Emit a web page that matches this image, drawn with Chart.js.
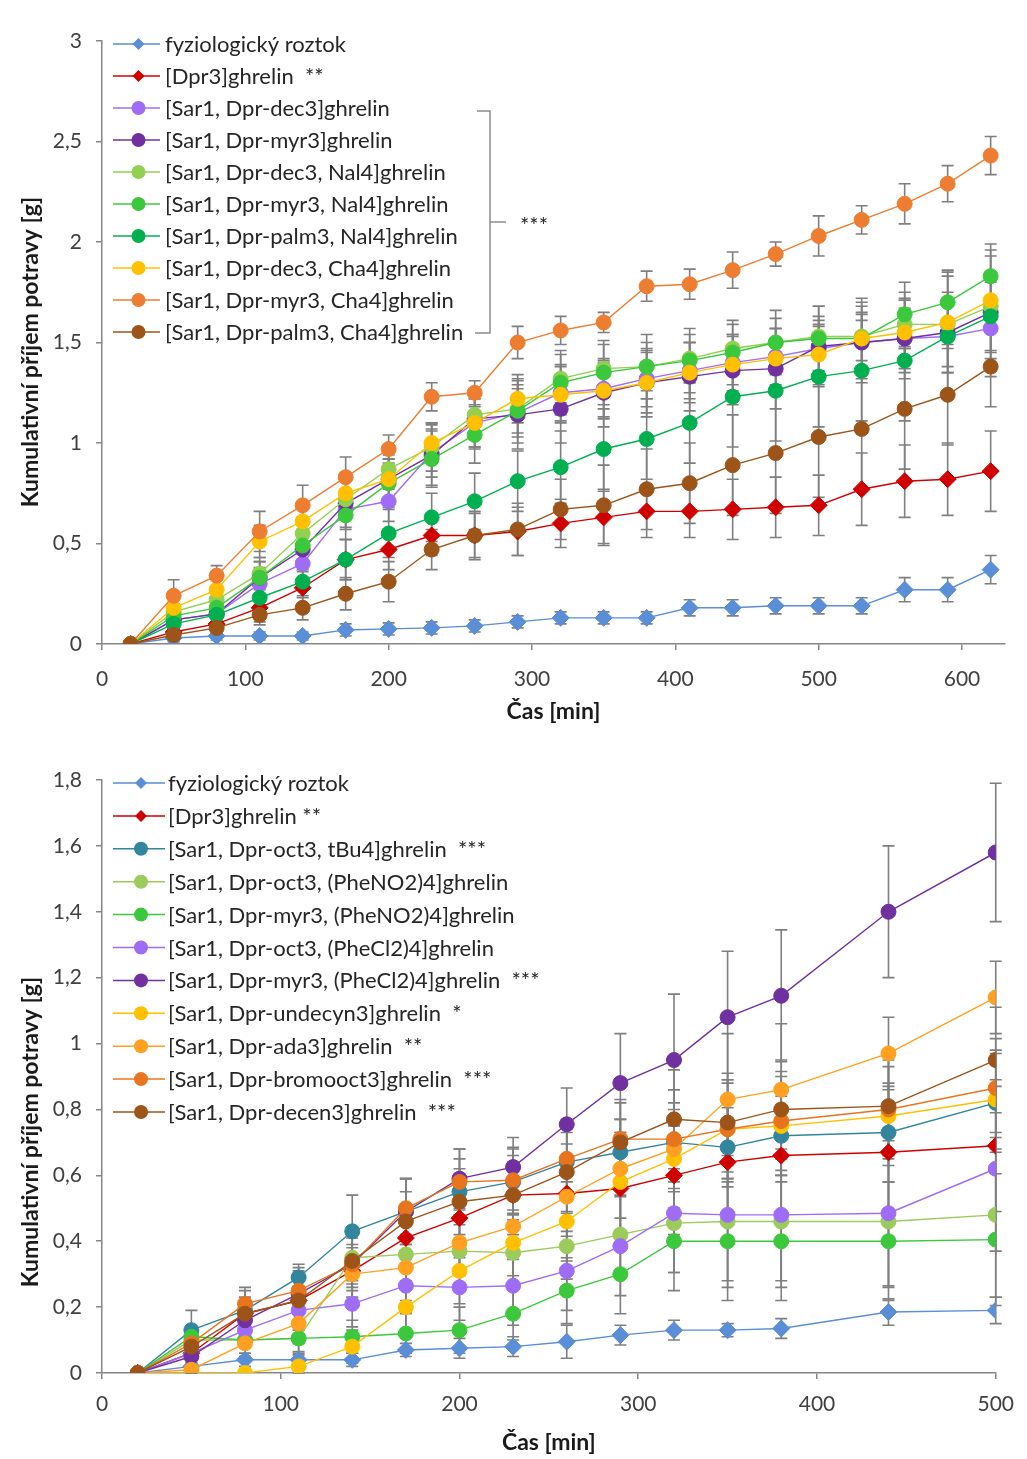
<!DOCTYPE html>
<html lang="cs">
<head>
<meta charset="utf-8">
<title>Kumulativní příjem potravy</title>
<script src="https://cdn.jsdelivr.net/npm/chart.js@4.4.0/dist/chart.umd.min.js"></script>
<style>
  html, body { margin: 0; padding: 0; background: #fff; }
  .panel { position: absolute; left: 0; width: 1027px; }
  #p1 { top: 0; height: 730px; }
  #p2 { top: 730px; height: 729px; }
</style>
</head>
<body>
<div class="panel" id="p1"><canvas id="grafHorni" width="1027" height="730"></canvas></div>
<div class="panel" id="p2"><canvas id="grafDolni" width="1027" height="729"></canvas></div>
<script>
// ---------- horní graf ----------
const casHorni = [20, 50, 80, 110, 140, 170, 200, 230, 260, 290, 320, 350, 380, 410, 440, 470, 500, 530, 560, 590, 620];
const nazvyHorni = [
  "fyziologický roztok",
  "[Dpr3]ghrelin  **",
  "[Sar1, Dpr-dec3]ghrelin",
  "[Sar1, Dpr-myr3]ghrelin",
  "[Sar1, Dpr-dec3, Nal4]ghrelin",
  "[Sar1, Dpr-myr3, Nal4]ghrelin",
  "[Sar1, Dpr-palm3, Nal4]ghrelin",
  "[Sar1, Dpr-dec3, Cha4]ghrelin",
  "[Sar1, Dpr-myr3, Cha4]ghrelin",
  "[Sar1, Dpr-palm3, Cha4]ghrelin"
];
const barvyHorni = ["#5A8ED6", "#D00000", "#9F6CF6", "#7030A0", "#92D050", "#3CC83C", "#00B050", "#FFC000", "#ED7D31", "#9C5418"];
const znackyHorni = ["rectRot", "rectRot", "circle", "circle", "circle", "circle", "circle", "circle", "circle", "circle"];

const fyzioH     = [0, 0.03, 0.04, 0.04, 0.04, 0.07, 0.075, 0.08, 0.09, 0.11, 0.13, 0.13, 0.13, 0.18, 0.18, 0.19, 0.19, 0.19, 0.27, 0.27, 0.37];
const fyzioHErr  = [0, 0.02, 0.02, 0.02, 0.02, 0.03, 0.03, 0.03, 0.03, 0.03, 0.03, 0.03, 0.03, 0.04, 0.04, 0.04, 0.04, 0.04, 0.06, 0.06, 0.07];
const dpr3H      = [0, 0.06, 0.1, 0.18, 0.28, 0.42, 0.47, 0.54, 0.54, 0.56, 0.6, 0.63, 0.66, 0.66, 0.67, 0.68, 0.69, 0.77, 0.81, 0.82, 0.86];
const dpr3HErr   = [0, 0.04, 0.05, 0.07, 0.08, 0.1, 0.1, 0.1, 0.11, 0.12, 0.12, 0.13, 0.13, 0.13, 0.15, 0.15, 0.15, 0.18, 0.18, 0.18, 0.2];
const dec3H      = [0, 0.12, 0.15, 0.3, 0.4, 0.67, 0.71, 0.95, 1.1, 1.15, 1.25, 1.27, 1.32, 1.36, 1.4, 1.43, 1.47, 1.5, 1.52, 1.53, 1.57];
const dec3HErr   = [0, 0.05, 0.06, 0.08, 0.1, 0.1, 0.1, 0.12, 0.12, 0.12, 0.14, 0.14, 0.14, 0.14, 0.14, 0.14, 0.14, 0.14, 0.15, 0.15, 0.15];
const myr3H      = [0, 0.12, 0.15, 0.33, 0.47, 0.7, 0.82, 0.94, 1.12, 1.14, 1.17, 1.25, 1.3, 1.33, 1.36, 1.37, 1.48, 1.5, 1.52, 1.55, 1.65];
const myr3HErr   = [0, 0.05, 0.06, 0.08, 0.1, 0.12, 0.12, 0.15, 0.15, 0.17, 0.17, 0.17, 0.17, 0.17, 0.17, 0.2, 0.2, 0.2, 0.2, 0.2, 0.2];
const dec3NalH   = [0, 0.16, 0.22, 0.35, 0.55, 0.72, 0.87, 0.98, 1.14, 1.17, 1.32, 1.37, 1.38, 1.42, 1.47, 1.5, 1.53, 1.53, 1.59, 1.59, 1.68];
const dec3NalHErr= [0, 0.04, 0.05, 0.08, 0.08, 0.1, 0.1, 0.12, 0.12, 0.12, 0.12, 0.12, 0.12, 0.12, 0.12, 0.12, 0.1, 0.12, 0.12, 0.12, 0.12];
const myr3NalH   = [0, 0.14, 0.18, 0.33, 0.49, 0.64, 0.8, 0.92, 1.04, 1.16, 1.3, 1.35, 1.38, 1.41, 1.45, 1.5, 1.52, 1.52, 1.64, 1.7, 1.83];
const myr3NalHErr= [0, 0.04, 0.05, 0.08, 0.1, 0.12, 0.12, 0.14, 0.14, 0.16, 0.16, 0.16, 0.16, 0.16, 0.16, 0.16, 0.16, 0.16, 0.16, 0.16, 0.16];
const palm3NalH  = [0, 0.1, 0.145, 0.23, 0.31, 0.42, 0.55, 0.63, 0.71, 0.81, 0.88, 0.97, 1.02, 1.1, 1.23, 1.26, 1.33, 1.36, 1.41, 1.53, 1.63];
const palm3NalHErr=[0, 0.03, 0.04, 0.06, 0.08, 0.1, 0.12, 0.12, 0.14, 0.15, 0.18, 0.2, 0.2, 0.2, 0.25, 0.25, 0.25, 0.25, 0.3, 0.3, 0.3];
const dec3ChaH   = [0, 0.18, 0.27, 0.51, 0.61, 0.75, 0.82, 1.0, 1.1, 1.22, 1.24, 1.26, 1.3, 1.35, 1.39, 1.42, 1.44, 1.52, 1.55, 1.6, 1.71];
const dec3ChaHErr= [0, 0.05, 0.06, 0.08, 0.08, 0.1, 0.1, 0.1, 0.12, 0.12, 0.14, 0.14, 0.15, 0.15, 0.15, 0.15, 0.15, 0.2, 0.2, 0.25, 0.25];
const myr3ChaH   = [0, 0.24, 0.34, 0.56, 0.69, 0.83, 0.97, 1.23, 1.25, 1.5, 1.56, 1.6, 1.78, 1.79, 1.86, 1.94, 2.03, 2.11, 2.19, 2.29, 2.43];
const myr3ChaHErr= [0, 0.08, 0.05, 0.1, 0.1, 0.1, 0.07, 0.07, 0.06, 0.08, 0.07, 0.05, 0.075, 0.075, 0.09, 0.06, 0.1, 0.07, 0.1, 0.09, 0.095];
const palm3ChaH  = [0, 0.045, 0.08, 0.145, 0.18, 0.25, 0.31, 0.47, 0.54, 0.57, 0.67, 0.69, 0.77, 0.8, 0.89, 0.95, 1.03, 1.07, 1.17, 1.24, 1.38];
const palm3ChaHErr=[0, 0.03, 0.04, 0.05, 0.06, 0.08, 0.1, 0.1, 0.12, 0.13, 0.15, 0.2, 0.2, 0.2, 0.25, 0.3, 0.3, 0.3, 0.3, 0.25, 0.2];

const hodnotyHorni = [fyzioH, dpr3H, dec3H, myr3H, dec3NalH, myr3NalH, palm3NalH, dec3ChaH, myr3ChaH, palm3ChaH];
const chybyHorni = [fyzioHErr, dpr3HErr, dec3HErr, myr3HErr, dec3NalHErr, myr3NalHErr, palm3NalHErr, dec3ChaHErr, myr3ChaHErr, palm3ChaHErr];

// ---------- dolní graf ----------
const casDolni = [20, 50, 80, 110, 140, 170, 200, 230, 260, 290, 320, 350, 380, 440, 500];
const nazvyDolni = [
  "fyziologický roztok",
  "[Dpr3]ghrelin **",
  "[Sar1, Dpr-oct3, tBu4]ghrelin  ***",
  "[Sar1, Dpr-oct3, (PheNO2)4]ghrelin",
  "[Sar1, Dpr-myr3, (PheNO2)4]ghrelin",
  "[Sar1, Dpr-oct3, (PheCl2)4]ghrelin",
  "[Sar1, Dpr-myr3, (PheCl2)4]ghrelin  ***",
  "[Sar1, Dpr-undecyn3]ghrelin  *",
  "[Sar1, Dpr-ada3]ghrelin  **",
  "[Sar1, Dpr-bromooct3]ghrelin  ***",
  "[Sar1, Dpr-decen3]ghrelin  ***"
];
const barvyDolni = ["#5A8ED6", "#D00000", "#31859C", "#9BCB5A", "#3CC83C", "#9F6CF6", "#7030A0", "#FFC000", "#FFA020", "#E8741E", "#9C5418"];
const znackyDolni = ["rectRot", "rectRot", "circle", "circle", "circle", "circle", "circle", "circle", "circle", "circle", "circle"];

const fyzioD      = [0, 0.02, 0.04, 0.04, 0.04, 0.07, 0.075, 0.08, 0.095, 0.115, 0.13, 0.13, 0.135, 0.185, 0.19];
const fyzioDErr   = [0, 0.02, 0.02, 0.02, 0.02, 0.02, 0.03, 0.03, 0.05, 0.03, 0.03, 0.02, 0.03, 0.04, 0.04];
const dpr3D       = [0, 0.06, 0.18, 0.22, 0.31, 0.41, 0.47, 0.54, 0.545, 0.56, 0.6, 0.64, 0.66, 0.67, 0.69];
const dpr3DErr    = [0, 0.04, 0.05, 0.06, 0.08, 0.1, 0.12, 0.12, 0.15, 0.15, 0.18, 0.18, 0.2, 0.2, 0.2];
const oct3tBuD    = [0, 0.13, 0.19, 0.29, 0.43, 0.49, 0.55, 0.58, 0.64, 0.67, 0.7, 0.685, 0.72, 0.73, 0.82];
const oct3tBuDErr = [0, 0.06, 0.06, 0.04, 0.11, 0.1, 0.1, 0.1, 0.1, 0.1, 0.12, 0.12, 0.12, 0.15, 0.15];
const oct3NO2D    = [0, 0.1, 0.1, 0.105, 0.35, 0.36, 0.37, 0.365, 0.385, 0.42, 0.455, 0.46, 0.46, 0.46, 0.48];
const oct3NO2DErr = [0, 0.03, 0.05, 0.05, 0.08, 0.1, 0.1, 0.1, 0.1, 0.12, 0.15, 0.2, 0.2, 0.2, 0.25];
const myr3NO2D    = [0, 0.11, 0.1, 0.105, 0.11, 0.12, 0.13, 0.18, 0.25, 0.3, 0.4, 0.4, 0.4, 0.4, 0.405];
const myr3NO2DErr = [0, 0.03, 0.04, 0.04, 0.05, 0.06, 0.07, 0.08, 0.1, 0.12, 0.15, 0.18, 0.18, 0.18, 0.2];
const oct3Cl2D    = [0, 0.06, 0.13, 0.19, 0.21, 0.265, 0.26, 0.265, 0.31, 0.385, 0.485, 0.48, 0.48, 0.485, 0.62];
const oct3Cl2DErr = [0, 0.03, 0.05, 0.06, 0.07, 0.08, 0.1, 0.12, 0.12, 0.15, 0.18, 0.2, 0.2, 0.22, 0.25];
const myr3Cl2D    = [0, 0.05, 0.16, 0.24, 0.33, 0.49, 0.59, 0.625, 0.755, 0.88, 0.95, 1.08, 1.145, 1.4, 1.58];
const myr3Cl2DErr = [0, 0.04, 0.06, 0.08, 0.1, 0.1, 0.09, 0.09, 0.11, 0.15, 0.2, 0.2, 0.2, 0.2, 0.21];
const undecynD    = [0, 0, 0, 0.02, 0.08, 0.2, 0.31, 0.395, 0.46, 0.58, 0.65, 0.74, 0.75, 0.78, 0.83];
const undecynDErr = [0, 0, 0, 0.02, 0.05, 0.08, 0.1, 0.1, 0.12, 0.15, 0.15, 0.15, 0.15, 0.15, 0.15];
const ada3D       = [0, 0.01, 0.09, 0.15, 0.3, 0.32, 0.395, 0.445, 0.535, 0.62, 0.68, 0.83, 0.86, 0.97, 1.14];
const ada3DErr    = [0, 0.01, 0.04, 0.06, 0.08, 0.1, 0.1, 0.1, 0.12, 0.15, 0.18, 0.2, 0.2, 0.11, 0.11];
const bromoD      = [0, 0.09, 0.21, 0.25, 0.33, 0.5, 0.58, 0.585, 0.65, 0.71, 0.71, 0.74, 0.765, 0.8, 0.865];
const bromoDErr   = [0, 0.04, 0.05, 0.06, 0.08, 0.09, 0.1, 0.1, 0.12, 0.12, 0.15, 0.15, 0.15, 0.15, 0.15];
const decen3D     = [0, 0.08, 0.18, 0.22, 0.34, 0.46, 0.52, 0.54, 0.61, 0.7, 0.77, 0.76, 0.8, 0.81, 0.95];
const decen3DErr  = [0, 0.05, 0.05, 0.06, 0.08, 0.09, 0.1, 0.1, 0.12, 0.12, 0.15, 0.15, 0.15, 0.15, 0.16];

const hodnotyDolni = [fyzioD, dpr3D, oct3tBuD, oct3NO2D, myr3NO2D, oct3Cl2D, myr3Cl2D, undecynD, ada3D, bromoD, decen3D];
const chybyDolni = [fyzioDErr, dpr3DErr, oct3tBuDErr, oct3NO2DErr, myr3NO2DErr, oct3Cl2DErr, myr3Cl2DErr, undecynDErr, ada3DErr, bromoDErr, decen3DErr];

const FONT = "Lato, 'Open Sans', sans-serif";
const SEDA = "#868686";
Chart.defaults.font.family = FONT;

// chybové úsečky (kreslí se pod body)
const chybovePlugin = {
  id: "chybove",
  beforeDatasetsDraw(chart) {
    const ctx = chart.ctx;
    const osaY = chart.scales.y;
    ctx.save();
    ctx.strokeStyle = "#7f7f7f";
    ctx.lineWidth = 1.6;
    chart.data.datasets.forEach((ds, i) => {
      const meta = chart.getDatasetMeta(i);
      if (!ds.chyby || meta.hidden) return;
      meta.data.forEach((bod, j) => {
        const e = ds.chyby[j];
        if (!e) return;
        const v = ds.data[j].y;
        const y1 = osaY.getPixelForValue(v + e);
        const y2 = osaY.getPixelForValue(Math.max(0, v - e));
        ctx.beginPath();
        ctx.moveTo(bod.x, y1); ctx.lineTo(bod.x, y2);
        ctx.moveTo(bod.x - 6, y1); ctx.lineTo(bod.x + 6, y1);
        ctx.moveTo(bod.x - 6, y2); ctx.lineTo(bod.x + 6, y2);
        ctx.stroke();
      });
    });
    ctx.restore();
  }
};

function znacka(ctx, styl, x, y, r) {
  ctx.beginPath();
  if (styl === "rectRot") {
    ctx.moveTo(x, y - r); ctx.lineTo(x + r, y); ctx.lineTo(x, y + r); ctx.lineTo(x - r, y);
    ctx.closePath();
  } else {
    ctx.arc(x, y, r, 0, Math.PI * 2);
  }
  ctx.fill();
}

// legenda uvnitř grafu (jako v Excelu) + svislý popisek osy Y
const legendaPlugin = {
  id: "legenda",
  afterDraw(chart, args, o) {
    const ctx = chart.ctx;
    ctx.save();
    ctx.font = o.font;
    ctx.textBaseline = "middle";
    chart.data.datasets.forEach((ds, i) => {
      const y = o.y0 + i * o.krok;
      ctx.strokeStyle = ds.borderColor;
      ctx.lineWidth = 1.5;
      ctx.beginPath(); ctx.moveTo(o.x0, y); ctx.lineTo(o.x1, y); ctx.stroke();
      ctx.fillStyle = ds.pointBackgroundColor;
      znacka(ctx, ds.pointStyle, (o.x0 + o.x1) / 2 + 2, y, ds.pointStyle === "rectRot" ? 6 : 7);
      ctx.fillStyle = "#262626";
      ctx.fillText(ds.label, o.xText, y + 1);
    });
    if (o.zavorka) {
      const z = o.zavorka;
      const yA = o.y0 + z.od * o.krok + 3;
      const yB = o.y0 + z.do * o.krok + 1;
      const yM = (yA + yB) / 2;
      ctx.strokeStyle = "#8c8c8c";
      ctx.lineWidth = 1.5;
      ctx.beginPath();
      ctx.moveTo(z.x - 13, yA); ctx.lineTo(z.x, yA); ctx.lineTo(z.x, yB); ctx.lineTo(z.x - 15, yB);
      ctx.moveTo(z.x, yM); ctx.lineTo(z.x + 16, yM);
      ctx.stroke();
      ctx.fillStyle = "#262626";
      ctx.fillText(z.text, z.x + 30, yM + 4);
    }
    // popisek osy Y
    ctx.translate(o.titulekX, o.titulekY);
    ctx.rotate(-Math.PI / 2);
    ctx.textAlign = "center";
    ctx.font = "bold 23px " + FONT;
    ctx.fillStyle = "#1a1a1a";
    ctx.fillText("Kumulativní příjem potravy [g]", 0, 0);
    ctx.restore();
  }
};

function datasety(casy, hodnoty, chyby, nazvy, barvy, znacky) {
  return hodnoty.map((rada, i) => ({
    label: nazvy[i],
    data: casy.map((t, j) => ({ x: t, y: rada[j] })),
    chyby: chyby[i],
    borderColor: barvy[i],
    backgroundColor: barvy[i],
    pointBackgroundColor: barvy[i],
    pointBorderColor: barvy[i],
    pointStyle: znacky[i],
    pointRadius: znacky[i] === "rectRot" ? 8.5 : 7.5,
    pointBorderWidth: 1,
    borderWidth: 1.4,
    tension: 0,
    order: hodnoty.length - i
  }));
}

function osy(maxX, maxY, krokY, vyskaX, padX) {
  const mrizka = { drawOnChartArea: false, drawTicks: true, tickLength: 6, color: SEDA, lineWidth: 1.5 };
  return {
    x: {
      type: "linear", min: 0, max: maxX,
      ticks: { stepSize: 100, includeBounds: false, padding: padX, font: { size: 21 }, color: "#404040" },
      afterBuildTicks: s => { s.ticks = s.ticks.filter(t => t.value % 100 === 0); },
      afterFit: s => { s.height = vyskaX; },
      grid: mrizka,
      border: { color: SEDA, width: 1.5 },
      title: { display: true, text: "Čas [min]", font: { size: 23, weight: "bold" }, color: "#1a1a1a", padding: 3 }
    },
    y: {
      min: 0, max: maxY,
      ticks: {
        stepSize: krokY, padding: 14, font: { size: 21 }, color: "#404040",
        callback: v => String(Math.round(v * 10) / 10).replace(".", ",")
      },
      afterFit: s => { s.width = 94; },
      grid: mrizka,
      border: { color: SEDA, width: 1.5 }
    }
  };
}

new Chart(document.getElementById("grafHorni"), {
  type: "line",
  data: { datasets: datasety(casHorni, hodnotyHorni, chybyHorni, nazvyHorni, barvyHorni, znackyHorni) },
  options: {
    responsive: false,
    animation: false,
    devicePixelRatio: 1,
    layout: { padding: { left: 8, right: 22, top: 41, bottom: 2 } },
    scales: osy(630, 3, 0.5, 84, 17),
    plugins: {
      legend: { display: false },
      tooltip: { enabled: false },
      legenda: {
        font: "22px " + FONT, x0: 113, x1: 160, xText: 165, y0: 44, krok: 32,
        zavorka: { od: 2, do: 9, x: 490, text: "***" },
        titulekX: 31, titulekY: 352
      }
    }
  },
  plugins: [chybovePlugin, legendaPlugin]
});

new Chart(document.getElementById("grafDolni"), {
  type: "line",
  data: { datasets: datasety(casDolni, hodnotyDolni, chybyDolni, nazvyDolni, barvyDolni, znackyDolni) },
  options: {
    responsive: false,
    animation: false,
    devicePixelRatio: 1,
    layout: { padding: { left: 8, right: 23, top: 50, bottom: 0 } },
    scales: osy(500, 1.8, 0.2, 86, 13),
    plugins: {
      legend: { display: false },
      tooltip: { enabled: false },
      legenda: {
        font: "22px " + FONT, x0: 113, x1: 165, xText: 168, y0: 53, krok: 32.9,
        titulekX: 31, titulekY: 402
      }
    }
  },
  plugins: [chybovePlugin, legendaPlugin]
});
</script>
</body>
</html>
